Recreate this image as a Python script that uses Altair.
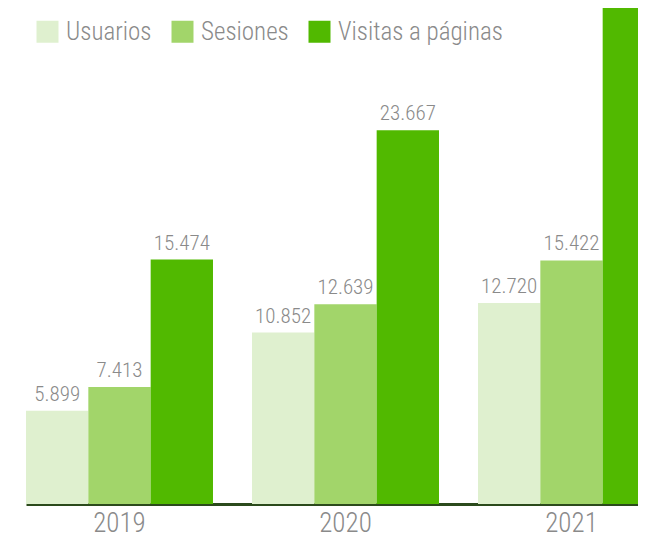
import altair as alt
import pandas as pd

years = ["2019", "2020", "2021"]
series = ["Usuarios", "Sesiones", "Visitas a páginas"]
usuarios = [5899, 10852, 12720]
sesiones = [7413, 12639, 15422]
visitas = [15474, 23667, 33000]  # 2021 bar runs off the top of the picture; value estimated
colors = ["#dff0cf", "#a2d56a", "#51b900"]
y_max = 31400

rows = []
for i, y in enumerate(years):
    for s, vals in zip(series, [usuarios, sesiones, visitas]):
        v = vals[i]
        rows.append({"year": y, "serie": s, "value": v, "label": f"{v:,}".replace(",", ".")})
df = pd.DataFrame(rows)

FONT = "Roboto Condensed"
GRAY = "#8a8a8a"

x = alt.X("year:N", sort=years,
          scale=alt.Scale(range=[0, 639], paddingInner=0.1726, paddingOuter=0),
          axis=alt.Axis(title=None, labelAngle=0, ticks=False, domainColor="#2b4a1c",
                        domainWidth=3, labelFontSize=27, labelFont=FONT, labelFontWeight=300,
                        labelColor=GRAY, labelBaseline="alphabetic", labelPadding=27,
                        grid=False))
xo = alt.XOffset("serie:N", sort=series, scale=alt.Scale(paddingInner=0, paddingOuter=0))
y = alt.Y("value:Q", scale=alt.Scale(domain=[0, y_max]), axis=None)

bars = alt.Chart(df).mark_bar(clip=True).encode(
    x=x, xOffset=xo, y=y,
    color=alt.Color("serie:N", sort=series,
                    scale=alt.Scale(domain=series, range=colors),
                    legend=alt.Legend(title=None, orient="none", direction="horizontal",
                                      legendX=9, legendY=11, symbolType="square",
                                      symbolSize=484, symbolStrokeWidth=0, symbolOpacity=1,
                                      labelFontSize=25, labelFont=FONT, labelFontWeight=300,
                                      labelColor=GRAY, labelOffset=6, columnPadding=18,
                                      labelLimit=400)),
)

labels = alt.Chart(df).transform_filter(
    alt.datum.value < y_max
).mark_text(clip=True, dy=-10, baseline="alphabetic", fontSize=21,
            font=FONT, fontWeight=300, color=GRAY).encode(
    x=x, xOffset=xo, y=y, text="label:N"
)

chart = alt.layer(bars, labels).properties(
    width=612, height=496,
    autosize=alt.AutoSizeParams(type="none"),
    padding={"left": 18, "top": 0, "right": 0, "bottom": 36},
).configure_view(stroke=None)

chart.save("out.html", embed_options={"renderer": "svg", "actions": False})
